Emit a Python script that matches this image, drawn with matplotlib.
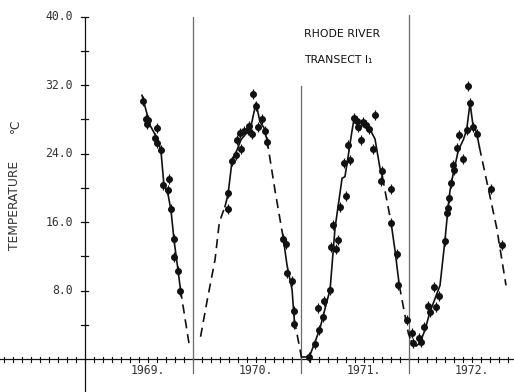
import matplotlib
matplotlib.use("Agg")
import matplotlib.pyplot as plt
import numpy as np

# ---------------- observations (decimal year, water temperature in deg C) ----------------
obs_1969_t = [1969.534, 1969.562, 1969.586, 1969.571, 1969.664, 1969.648, 1969.669, 1969.701,
              1969.725, 1969.781, 1969.765, 1969.796, 1969.824, 1969.821, 1969.864, 1969.883]
obs_1969_v = [30.1, 28.0, 27.9, 27.5, 27.0, 25.8, 25.2, 24.4,
              20.3, 21.0, 19.7, 17.5, 14.0, 11.9, 10.3, 8.0]

obs_1970_t = [1970.327, 1970.320, 1970.357, 1970.398, 1970.410, 1970.444, 1970.435, 1970.475,
              1970.512, 1970.520, 1970.543, 1970.558, 1970.580, 1970.605, 1970.636, 1970.667,
              1970.682, 1970.836, 1970.861, 1970.873, 1970.919, 1970.935, 1970.938]
obs_1970_v = [17.5, 19.4, 23.1, 23.8, 25.6, 24.5, 26.4, 26.6,
              26.8, 27.2, 26.3, 30.9, 29.5, 27.1, 28.0, 26.6,
              25.4, 14.0, 13.4, 10.1, 9.1, 5.6, 4.05]

obs_1971_t = [1971.077, 1971.130, 1971.170, 1971.207, 1971.154, 1971.216, 1971.269, 1971.278,
              1971.320, 1971.339, 1971.299, 1971.361, 1971.417, 1971.400, 1971.454, 1971.438,
              1971.494, 1971.517, 1971.530, 1971.552, 1971.571, 1971.600, 1971.630, 1971.663,
              1971.685, 1971.753, 1971.740, 1971.833, 1971.833, 1971.886, 1971.900, 1971.978]
obs_1971_v = [0.27, 1.75, 3.4, 4.9, 6.0, 6.8, 8.1, 13.1,
              12.9, 13.9, 15.7, 17.7, 19.0, 22.9, 23.2, 24.95,
              28.2, 27.8, 27.1, 25.6, 27.7, 27.3, 26.9, 24.5,
              28.5, 21.9, 20.8, 19.8, 15.9, 12.3, 8.6, 4.5]

obs_1972_t = [1972.025, 1972.033, 1972.095, 1972.111, 1972.139, 1972.180, 1972.194, 1972.250,
              1972.231, 1972.281, 1972.333, 1972.355, 1972.360, 1972.370, 1972.386, 1972.417,
              1972.405, 1972.447, 1972.497, 1972.466, 1972.534, 1972.565, 1972.549, 1972.589,
              1972.626, 1972.756, 1972.858]
obs_1972_v = [3.0, 1.9, 2.5, 2.0, 3.7, 6.2, 5.5, 6.1,
              8.4, 7.4, 13.8, 17.1, 17.6, 18.8, 20.5, 22.1,
              22.7, 24.6, 23.4, 26.2, 26.8, 29.9, 31.9, 27.1,
              26.3, 19.8, 13.3]

# ---------------- fitted seasonal curve: solid where sampled, dashed where bridged ----------------
fit_solid_1969_t = [1969.528, 1969.602, 1969.676, 1969.704, 1969.731, 1969.769, 1969.796,
                    1969.824, 1969.861, 1969.884]
fit_solid_1969_v = [30.8, 27.3, 25.6, 24.2, 20.3, 19.2, 17.4, 13.9, 10.4, 8.1]
fit_dash_1969_t = [1969.884, 1969.968]
fit_dash_1969_v = [8.1, 1.4]

fit_dash_1970a_t = [1970.070, 1970.132, 1970.204, 1970.244, 1970.296]
fit_dash_1970a_v = [2.6, 6.9, 11.6, 16.0, 17.8]
fit_solid_1970a_t = [1970.296, 1970.324, 1970.361, 1970.407, 1970.444, 1970.500, 1970.537,
                     1970.583, 1970.620, 1970.657, 1970.685]
fit_solid_1970a_v = [17.8, 19.2, 23.1, 24.4, 25.6, 26.5, 27.2, 29.9, 27.7, 27.0, 25.6]
fit_dash_1970b_t = [1970.685, 1970.759, 1970.836]
fit_dash_1970b_v = [25.6, 19.7, 14.1]
fit_solid_1970b_t = [1970.836, 1970.870, 1970.917, 1970.938]
fit_solid_1970b_v = [14.1, 11.0, 8.1, 4.55]
fit_dash_1970c_t = [1970.938, 1971.004]
fit_dash_1970c_v = [4.55, 0.23]

fit_solid_1971a_t = [1971.004, 1971.077, 1971.130, 1971.176, 1971.231, 1971.269, 1971.315,
                     1971.380, 1971.407, 1971.438, 1971.469, 1971.494, 1971.546, 1971.577,
                     1971.623, 1971.685, 1971.731, 1971.753]
fit_solid_1971a_v = [0.23, 0.25, 2.0, 3.6, 6.3, 8.1, 15.3, 21.1, 21.3, 23.8, 26.4, 28.3,
                     26.7, 27.6, 27.2, 25.7, 22.3, 21.3]
fit_dash_1971a_t = [1971.753, 1971.833]
fit_dash_1971a_v = [21.3, 16.0]
fit_solid_1971b_t = [1971.833, 1971.870, 1971.910]
fit_solid_1971b_v = [16.0, 12.7, 8.6]
fit_dash_1971b_t = [1971.910, 1971.994, 1972.020]
fit_dash_1971b_v = [8.6, 3.0, 2.1]

fit_solid_1972_t = [1972.020, 1972.065, 1972.102, 1972.148, 1972.194, 1972.287, 1972.333,
                    1972.364, 1972.380, 1972.410, 1972.457, 1972.503, 1972.534, 1972.565,
                    1972.590, 1972.627, 1972.651]
fit_solid_1972_v = [2.1, 1.5, 1.9, 3.4, 5.5, 8.6, 13.9, 18.0, 19.7, 21.7, 24.4, 25.6,
                    26.8, 29.9, 27.5, 26.4, 24.8]
fit_dash_1972_t = [1972.651, 1972.812, 1972.898]
fit_dash_1972_v = [24.8, 15.3, 8.6]

years = [1969, 1970, 1971, 1972]
year_labels = ["1969.", "1970.", "1971.", "1972."]
ytick_values = [8, 16, 24, 32, 40]
ytick_labels = ["8.0", "16.0", "24.0", "32.0", "40.0"]

# ---------------- figure ----------------
W, H, DPI = 514, 392, 100
fig = plt.figure(figsize=(W / DPI, H / DPI), dpi=DPI)
ax = fig.add_axes([0, 0, 1, 1])
XMIN, XMAX = 1968.213, 1972.972
YMIN, YMAX = -3.854, 41.93
ax.set_xlim(XMIN, XMAX)
ax.set_ylim(YMIN, YMAX)
ax.axis("off")

px_x = (XMAX - XMIN) / W   # data units per pixel
px_y = (YMAX - YMIN) / H

ink = "#111111"
grey = "#6a6a6a"
label_ink = "#333333"

# axes
ax.plot([1969, 1969], [YMIN, 40.0], color=ink, lw=0.9, solid_capstyle="butt")
ax.plot([XMIN, XMAX], [0, 0], color=ink, lw=0.9)

# y ticks every 4 degrees
for v in np.arange(4, 41, 4):
    ax.plot([1969 - 4 * px_x, 1969 + 3 * px_x], [v, v], color=ink, lw=0.9)
for v, lab in zip(ytick_values, ytick_labels):
    ax.text(1969 - 12 * px_x, v, lab, ha="right", va="center",
            fontsize=8.3, family="DejaVu Sans Mono", color=label_ink)

# monthly ticks along the time axis
for m in np.arange(np.ceil(XMIN * 12), np.floor(XMAX * 12) + 1):
    t = m / 12.0
    ax.plot([t, t], [-2.5 * px_y, 2.5 * px_y], color=ink, lw=0.8)

# year separators
sep_tops = {1970: 40.0, 1971: 31.9, 1972: 40.2}
for y in [1970, 1971, 1972]:
    ax.plot([y, y], [-1.6, sep_tops[y]], color=grey, lw=0.9)

for y, lab in zip(years, year_labels):
    ax.text(y + 0.58, -1.3, lab, ha="center", va="center",
            fontsize=8.3, family="DejaVu Sans Mono", color=label_ink)

# axis title
ax.text(1968.213 + 15 * px_x, 17.9, "TEMPERATURE", rotation=90, ha="center", va="center",
        fontsize=8.8, color=label_ink)
ax.text(1968.213 + 15 * px_x, 27.3, "°C", rotation=90, ha="center", va="center",
        fontsize=8.8, color=label_ink)

# panel title
ax.text(1970.0 + 111 * px_x, 38.0, "RHODE RIVER", ha="left", va="center",
        fontsize=7.8, color=ink)
ax.text(1970.0 + 111 * px_x, 34.9, "TRANSECT I\u2081", ha="left", va="center",
        fontsize=7.8, color=ink)

# fitted curve
dash = (0, (5.5, 3.5))
solid_segments = [
    (fit_solid_1969_t, fit_solid_1969_v), (fit_solid_1970a_t, fit_solid_1970a_v),
    (fit_solid_1970b_t, fit_solid_1970b_v), (fit_solid_1971a_t, fit_solid_1971a_v),
    (fit_solid_1971b_t, fit_solid_1971b_v), (fit_solid_1972_t, fit_solid_1972_v),
]
dashed_segments = [
    (fit_dash_1969_t, fit_dash_1969_v), (fit_dash_1970a_t, fit_dash_1970a_v),
    (fit_dash_1970b_t, fit_dash_1970b_v), (fit_dash_1970c_t, fit_dash_1970c_v),
    (fit_dash_1971a_t, fit_dash_1971a_v), (fit_dash_1971b_t, fit_dash_1971b_v),
    (fit_dash_1972_t, fit_dash_1972_v),
]
for t, v in solid_segments:
    ax.plot(t, v, color=ink, lw=1.2, solid_joinstyle="round")
for t, v in dashed_segments:
    ax.plot(t, v, color=ink, lw=1.2, linestyle=dash)

# observations
for t, v in [(obs_1969_t, obs_1969_v), (obs_1970_t, obs_1970_v),
             (obs_1971_t, obs_1971_v), (obs_1972_t, obs_1972_v)]:
    ax.plot(t, v, linestyle="none", marker="|", ms=6.5, mew=0.9, color=ink)
    ax.plot(t, v, linestyle="none", marker="o", ms=4.0, mec=ink, mfc=ink)

fig.savefig("out.png", dpi=DPI, facecolor="white")
